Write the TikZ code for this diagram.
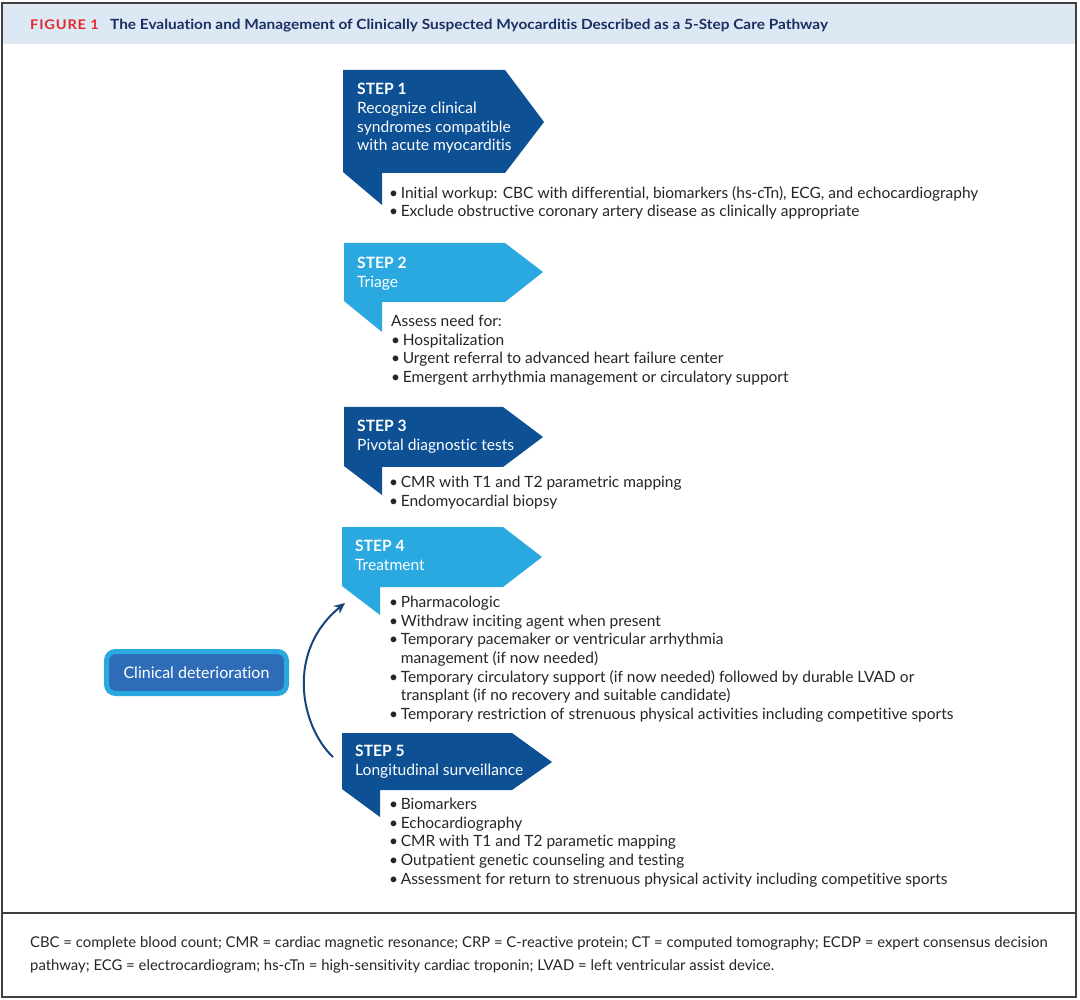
\documentclass[tikz,border=0pt]{standalone}
\usepackage{fontspec}
\setmainfont[Ligatures=CommonOff]{Lato}
\newfontfamily\titlefont[FakeStretch=1.1,Ligatures=CommonOff]{Lato}
\usetikzlibrary{arrows.meta}

\definecolor{stepDark}{RGB}{14,80,148}
\definecolor{stepLight}{RGB}{41,169,224}
\definecolor{decoFill}{RGB}{46,108,184}
\definecolor{curveBlue}{RGB}{24,68,122}
\definecolor{barBlue}{RGB}{221,232,245}
\definecolor{titleNavy}{RGB}{26,46,96}
\definecolor{figRed}{RGB}{226,42,46}
\definecolor{bodyGray}{RGB}{38,38,38}

\tikzset{
  flagDark/.style={fill=stepDark},
  flagLight/.style={fill=stepLight},
  stepLabel/.style={anchor=north west, inner sep=0pt, align=left, text=white, font=\fontsize{15.6}{18.7}\selectfont},
  stepItems/.style={anchor=north west, inner sep=0pt, align=left, text=bodyGray, font=\fontsize{15.5}{18.6}\selectfont},
  footText/.style={anchor=north west, inner sep=0pt, align=left, text=bodyGray, font=\fontsize{14.85}{23}\selectfont}
}
\newcommand{\itm}{\textbullet\,}
\newcommand{\itmgap}{\hphantom{\textbullet\,}}

\begin{document}
\begin{tikzpicture}[x=1pt,y=-1pt]
\useasboundingbox (0,0) rectangle (1080,1000);
\fill[white] (0,0) rectangle (1080,1000);

% title bar and frame
\fill[barBlue] (3,4) rectangle (1076,44);
\draw[black!75, line width=2pt] (2,3) rectangle (1076,997);
\draw[black!75, line width=1.5pt] (2,913) -- (1076,913);
\node[anchor=base west, inner sep=0pt, text=figRed, font=\titlefont\fontsize{13.3}{15}\selectfont\bfseries](figNum) at (30,30){\addfontfeature{LetterSpace=6}FIGURE 1};
\node[anchor=base west, inner sep=0pt, text=titleNavy, font=\titlefont\fontsize{14}{16}\selectfont\bfseries](figTitle) at (110,30){The Evaluation and Management of Clinically Suspected Myocarditis Described as a 5-Step Care Pathway};

% step flags
\fill[flagDark] (343,70) -- (505,70) -- (544,122) -- (505,173) -- (382,173) -- (382,205) -- (343,172) -- cycle;
\fill[flagLight] (344,243) -- (505,243) -- (543,272) -- (505,302) -- (382,302) -- (382,332) -- (344,301) -- cycle;
\fill[flagDark] (344,407) -- (503,407) -- (543,437) -- (503,467) -- (382,467) -- (382,495) -- (344,466) -- cycle;
\fill[flagLight] (342,527) -- (503,527) -- (542,557) -- (503,587) -- (380,587) -- (380,615) -- (342,586) -- cycle;
\fill[flagDark] (342,733) -- (512,733) -- (552,762) -- (512,790) -- (380,790) -- (380,817) -- (342,789) -- cycle;

% step texts
\node[stepLabel](step1Label) at (357,83){\textbf{STEP 1}\\Recognize clinical\\syndromes compatible\\with acute myocarditis};
\node[stepItems](step1Items) at (389,186){\itm Initial workup: CBC with differential, biomarkers (hs-cTn), ECG, and echocardiography\\
\itm Exclude obstructive coronary artery disease as clinically appropriate};

\node[stepLabel](step2Label) at (357,257){\textbf{STEP 2}\\Triage};
\node[stepItems](step2Items) at (391,315){Assess need for:\\
\itm Hospitalization\\
\itm Urgent referral to advanced heart failure center\\
\itm Emergent arrhythmia management or circulatory support};

\node[stepLabel](step3Label) at (357,420){\textbf{STEP 3}\\Pivotal diagnostic tests};
\node[stepItems](step3Items) at (389,476){\itm CMR with T1 and T2 parametric mapping\\
\itm Endomyocardial biopsy};

\node[stepLabel](step4Label) at (355,540){\textbf{STEP 4}\\Treatment};
\node[stepItems](step4Items) at (389,596){\itm Pharmacologic\\
\itm Withdraw inciting agent when present\\
\itm Temporary pacemaker or ventricular arrhythmia\\
\itmgap management (if now needed)\\
\itm Temporary circulatory support (if now needed) followed by durable LVAD or\\
\itmgap transplant (if no recovery and suitable candidate)\\
\itm Temporary restriction of strenuous physical activities including competitive sports};

\node[stepLabel](step5Label) at (355,745){\textbf{STEP 5}\\Longitudinal surveillance};
\node[stepItems](step5Items) at (389,798){\itm Biomarkers\\
\itm Echocardiography\\
\itm CMR with T1 and T2 parametic mapping\\
\itm Outpatient genetic counseling and testing\\
\itm Assessment for return to strenuous physical activity including competitive sports};

% clinical deterioration loop
\node[draw=stepLight, line width=5pt, fill=decoFill, rounded corners=9pt, minimum width=180pt, minimum height=42pt, text=white, font=\fontsize{16}{18}\selectfont](deterioration) at (196.5,672.5){Clinical deterioration};
\coordinate(step5Corner) at (333,757);
\coordinate(step4Tab) at (345,603);
\draw[curveBlue, line width=2pt, -{Stealth[length=11pt,width=10pt]}] (step5Corner) .. controls (301,727) and (285,652) .. (step4Tab);

% abbreviations
\node[footText](abbrev) at (30,936){CBC = complete blood count; CMR = cardiac magnetic resonance; CRP = C-reactive protein; CT = computed tomography; ECDP = expert consensus decision\\
pathway; ECG = electrocardiogram; hs-cTn = high-sensitivity cardiac troponin; LVAD = left ventricular assist device.};
\end{tikzpicture}
\end{document}
